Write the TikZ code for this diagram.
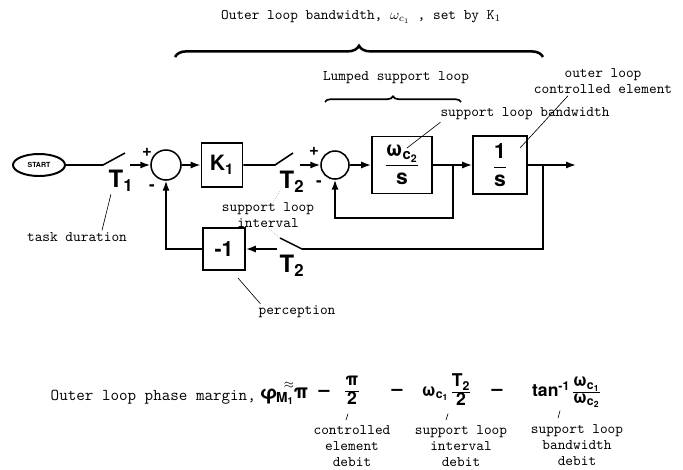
\documentclass[tikz,border=0pt]{standalone}
\usepackage{amsmath}
\usepackage{fontspec}
\newfontfamily\heros{TeX Gyre Heros}
\usepackage{tikz}
\usetikzlibrary{arrows.meta,calc,positioning,shapes.geometric,decorations.pathreplacing}
\newcommand{\pxu}{0.025cm}
\newcommand{\stk}[2]{{\renewcommand{\arraystretch}{0.78}\setlength{\arrayrulewidth}{0.7pt}%
  \begin{tabular}{@{}c@{}}#1\\\hline #2\end{tabular}}}
\colorlet{leadgray}{gray!70}

\begin{document}
\begin{tikzpicture}[x=\pxu,y=-\pxu,>={Latex[length=7pt,width=5pt]},line width=1.1pt,
  blockbox/.style={draw,line width=1.3pt,inner sep=0pt,font=\heros\bfseries\fontsize{15}{17}\selectfont},
  sumnode/.style={draw,circle,inner sep=0pt,minimum size=#1*\pxu},
  tlab/.style={inner sep=0pt,font=\heros\bfseries\fontsize{17}{19}\selectfont},
  sgn/.style={inner sep=0pt,font=\heros\bfseries\fontsize{12}{14}\selectfont},
  note/.style={inner sep=1pt,align=center,font=\ttfamily\fontsize{10.4}{11.5}\selectfont},
  eq/.style={inner sep=0pt,font=\heros\bfseries\fontsize{14}{16}\selectfont},
  eqfr/.style={inner sep=0pt,font=\heros\bfseries\fontsize{12.5}{14}\selectfont},
  leader/.style={line width=0.45pt},
  bigbrace/.style={decorate,decoration={brace,amplitude=#1}}]
\useasboundingbox (0,0) rectangle (683,469);
% braces over the loops
\node[note] (outerbw) at (361,17) {Outer loop bandwidth, $\omega_{c_1}$ , set by K$_1$};
\draw[bigbrace=8pt,line width=1.8pt] (175,57) -- (543,57);
\node[note] (lumped) at (396,78) {Lumped support loop};
\draw[bigbrace=4pt,line width=1.2pt] (325,102) -- (461,102);
% forward path
\node[draw,ellipse,minimum width=52*\pxu,minimum height=22*\pxu,inner sep=0pt,line width=1.4pt,
  font=\heros\bfseries\fontsize{5}{6}\selectfont] (start) at (39,165) {START};
\coordinate (sw1a) at (103,165); \coordinate (sw1b) at (125,153); \coordinate (sw1c) at (130,165);
\node[sumnode=30] (sum1) at (166,165) {};
\node[blockbox,minimum width=41*\pxu,minimum height=44*\pxu] (k1) at (222,165) {K\textsubscript{1}};
\coordinate (sw2a) at (275,165); \coordinate (sw2b) at (293,153); \coordinate (sw2c) at (300,165);
\node[sumnode=28] (sum2) at (335,165) {};
\node[blockbox,minimum width=60*\pxu,minimum height=57*\pxu] (wbox) at (402,165)
  {$\dfrac{\text{ω}_{\text{c}_{\text{2}}}}{\text{s}}$};
\node[blockbox,minimum width=54*\pxu,minimum height=58*\pxu] (ibox) at (500,165)
  {$\dfrac{\text{1}}{\text{s}}$};
\coordinate (b1) at (453,165); \coordinate (in1) at (453,218);
\coordinate (b2) at (543,165); \coordinate (out) at (576,165);
% feedback path
\coordinate (sw3a) at (302,249); \coordinate (sw3b) at (280,238); \coordinate (sw3c) at (277,249);
\node[blockbox,minimum width=42*\pxu,minimum height=42*\pxu] (m1) at (224,249) {-1};
% connectors
\draw (start) -- (sw1a) -- (sw1b);
\draw[->] (sw1c) -- (sum1);
\draw[->] (sum1) -- (k1);
\draw (k1) -- (sw2a) -- (sw2b);
\draw[->] (sw2c) -- (sum2);
\draw[->] (sum2) -- (wbox);
\draw[->] (wbox) -- (ibox);
\draw[->] (ibox) -- (out);
\draw[->] (b1) -- (in1) -| (sum2.south);
\draw (b2) |- (sw3a) -- (sw3b);
\draw[->] (sw3c) -- (m1);
\draw[->] (m1) -| (sum1.south);
% signs and sampler labels
\node[sgn] (p1) at (147,152) {+}; \node[sgn] (n1) at (152,188) {-};
\node[sgn] (p2) at (314,151) {+}; \node[sgn] (n2) at (319,184) {-};
\node[tlab] (t1) at (121,181) {T\textsubscript{1}};
\node[tlab] (t2a) at (292,182) {T\textsubscript{2}};
\node[tlab] (t2b) at (292,266) {T\textsubscript{2}};
% annotations
\node[note] (taskdur) at (77,237) {task duration};
\draw[leader] ($(taskdur.north)+(25,0)$) -- ($(t1.south west)+(3,2)$);
\node[note] (slint) at (268,215) {support loop\\interval};
\draw[leader,leadgray,densely dotted] ($(t2a.south west)+(1,-2)$) -- ($(slint.north)+(5,2)$);
\draw[leader,leadgray,densely dotted] ($(slint.south)+(0,-2)$) -- (sw3b);
\node[note] (percep) at (297,312) {perception};
\draw[leader] ($(percep.north west)+(4,0)$) -- ($(m1.south east)+(-8,7)$);
\node[note] (slbw) at (525,114) {support loop bandwidth};
\draw[leader] ($(slbw.south west)+(2,0)$) -- ($(wbox.center)+(5,-17)$);
\node[note] (olce) at (603,81) {outer loop\\controlled element};
\draw[leader] ($(olce.south)+(-35,0)$) -- ($(ibox.center)+(20,-17)$);
% phase margin formula
\node[note,anchor=east,font=\ttfamily\fontsize{11.8}{13}\selectfont] (pmtxt) at (258,397) {Outer loop phase margin,};
\node[eq,anchor=west] (phi) at (259,397) {φ\textsubscript{\kern-1pt M\textsubscript{1}}};
\node[eq,font=\fontsize{9}{11}\selectfont] (apx) at (289,385) {$\approx$};
\node[eq] (pi0) at (301,393) {π};
\node[eq] (mn1) at (324,393) {–};
\node[eqfr] (fr1) at (352,392) {\stk{π}{2}};
\node[eq] (mn2) at (397,392) {–};
\node[eqfr] (fr2) at (446,392) {ω\textsubscript{c\textsubscript{1}}\,\stk{T\textsubscript{2}}{2}};
\node[eq] (mn3) at (497,392) {–};
\node[eqfr] (fr3) at (566,392) {tan\textsuperscript{-1}\,\stk{ω\textsubscript{c\textsubscript{1}}}{ω\textsubscript{c\textsubscript{2}}}};
\node[note] (cedeb) at (352,446) {controlled\\element\\debit};
\node[note] (sideb) at (461,446) {support loop\\interval\\debit};
\node[note] (sbdeb) at (577,445) {support loop\\bandwidth\\debit};
\draw[leader] ($(fr1.south)+(-4,4)$) -- ($(cedeb.north)+(-6,-3)$);
\draw[leader] ($(fr2.south)+(2,3)$) -- ($(sideb.north)+(-15,-3)$);
\draw[leader] ($(fr3.south)+(-6,2)$) -- ($(sbdeb.north)+(-19,-4)$);
\end{tikzpicture}
\end{document}
